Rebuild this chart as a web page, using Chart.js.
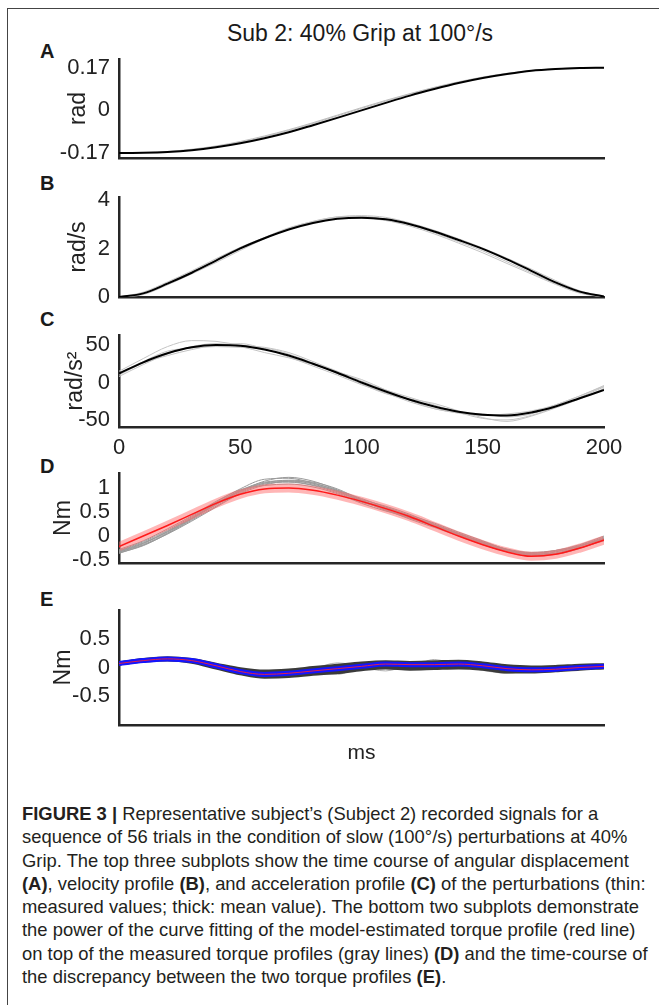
<!DOCTYPE html>
<html>
<head>
<meta charset="utf-8">
<script src="https://cdn.jsdelivr.net/npm/chart.js@4.4.0/dist/chart.umd.min.js"></script>
<style>
  body { margin: 0; width: 659px; height: 1005px; background: #fff; position: relative; overflow: hidden;
         font-family: "Liberation Sans", Arial, sans-serif; color: #1a1a1a; }
  .frame { position: absolute; left: 7px; top: 8px; width: 700px; height: 1100px;
           border-left: 1px solid #444; border-top: 1px solid #444; }
  canvas { position: absolute; left: 0; }
  .letter { position: absolute; left: 40px; font-weight: bold; font-size: 20px; line-height: 22px; }
  #title { position: absolute; top: 20px; left: 0; width: 720px; text-align: center; font-size: 23px; line-height: 26px; }
  #caption { position: absolute; left: 22px; top: 802px; font-size: 18.4px; line-height: 23.3px; color: #231f20; }
  #caption div { white-space: nowrap; }
</style>
</head>
<body>
<div class="frame"></div>
<div id="title">Sub 2: 40% Grip at 100°/s</div>
<div class="letter" style="top:40px">A</div>
<div class="letter" style="top:172px">B</div>
<div class="letter" style="top:308px">C</div>
<div class="letter" style="top:455px">D</div>
<div class="letter" style="top:588px">E</div>
<div id="caption">
  <div><b>FIGURE 3 |</b> Representative subject’s (Subject 2) recorded signals for a</div>
  <div>sequence of 56 trials in the condition of slow (100°/s) perturbations at 40%</div>
  <div>Grip. The top three subplots show the time course of angular displacement</div>
  <div><b>(A)</b>, velocity profile <b>(B)</b>, and acceleration profile <b>(C)</b> of the perturbations (thin:</div>
  <div>measured values; thick: mean value). The bottom two subplots demonstrate</div>
  <div>the power of the curve fitting of the model-estimated torque profile (red line)</div>
  <div>on top of the measured torque profiles (gray lines) <b>(D)</b> and the time-course of</div>
  <div>the discrepancy between the two torque profiles <b>(E)</b>.</div>
</div>
<script>
// time base, ms
const time = [0, 10, 20, 30, 40, 50, 60, 70, 80, 90, 100, 110, 120, 130, 140, 150, 160, 170, 180, 190, 200];
const xTickValues = [0, 50, 100, 150, 200];

// A: angular displacement (rad)
const dispMean = [-0.170, -0.169, -0.166, -0.159, -0.147, -0.131, -0.111, -0.087, -0.059, -0.030, 0.000,
                  0.030, 0.059, 0.085, 0.109, 0.129, 0.145, 0.158, 0.165, 0.169, 0.170];
const dispTrials = [
  [-0.170, -0.169, -0.165, -0.157, -0.144, -0.127, -0.105, -0.080, -0.052, -0.022, 0.008,
   0.037, 0.065, 0.090, 0.112, 0.131, 0.147, 0.158, 0.166, 0.169, 0.170],
  [-0.170, -0.168, -0.164, -0.155, -0.142, -0.124, -0.102, -0.077, -0.049, -0.019, 0.011,
   0.040, 0.067, 0.092, 0.114, 0.133, 0.148, 0.159, 0.166, 0.169, 0.170]
];
const dispTicks = [-0.17, 0, 0.17];

// B: velocity (rad/s)
const velMean = [0, 0.15, 0.55, 1.0, 1.5, 2.0, 2.42, 2.78, 3.05, 3.22, 3.27, 3.2, 3.0, 2.7, 2.35, 1.98, 1.55, 1.08, 0.6, 0.22, 0.02];
const velTrials = [
  [0, 0.2, 0.62, 1.08, 1.58, 2.05, 2.45, 2.8, 3.1, 3.3, 3.33, 3.2, 2.98, 2.65, 2.28, 1.9, 1.45, 1.0, 0.55, 0.18, 0.0],
  [0, 0.1, 0.5, 0.95, 1.42, 1.92, 2.4, 2.82, 3.12, 3.3, 3.35, 3.28, 3.05, 2.75, 2.4, 2.02, 1.6, 1.15, 0.68, 0.26, 0.03],
  [0, 0.15, 0.58, 1.02, 1.5, 1.98, 2.45, 2.85, 3.1, 3.22, 3.25, 3.15, 2.92, 2.6, 2.22, 1.82, 1.38, 0.95, 0.52, 0.16, 0.0]
];
const velTicks = [0, 2, 4];

// C: acceleration (rad/s^2)
const accMean = [12, 27, 39, 47, 50, 49, 44, 36, 25, 13, 0, -12, -23, -32, -39, -43, -44, -40, -32, -21, -10];
const accTrials = [
  [15, 32, 48, 56, 55, 50, 47, 40, 28, 15, 2, -10, -20, -30, -40, -48, -50, -44, -33, -20, -6],
  [8, 24, 38, 48, 52, 48, 40, 33, 24, 14, 4, -10, -24, -35, -40, -42, -46, -42, -30, -18, -5],
  [12, 28, 42, 46, 48, 47, 46, 38, 26, 12, -2, -15, -22, -28, -38, -47, -52, -45, -34, -22, -8],
  [10, 26, 36, 44, 50, 52, 45, 34, 22, 10, -3, -14, -26, -35, -41, -44, -42, -38, -30, -18, -4]
];
const accTicks = [-50, 0, 50];

// D: measured torque (gray) and model torque (red), Nm
const torqueModel = [-0.22, 0.0, 0.22, 0.45, 0.68, 0.87, 0.98, 1.0, 0.95, 0.85, 0.72, 0.57, 0.4, 0.2, 0.0,
                     -0.18, -0.33, -0.42, -0.38, -0.25, -0.08];
const torqueTrials = [
  [-0.32, -0.15, 0.1, 0.38, 0.68, 0.95, 1.12, 1.15, 1.08, 0.92, 0.72, 0.55, 0.38, 0.2, 0.02, -0.15, -0.3, -0.38, -0.35, -0.22, -0.05],
  [-0.35, -0.2, 0.05, 0.33, 0.62, 0.9, 1.08, 1.12, 1.05, 0.9, 0.7, 0.58, 0.42, 0.22, 0.05, -0.12, -0.28, -0.4, -0.36, -0.24, -0.1],
  [-0.3, -0.12, 0.12, 0.4, 0.7, 0.98, 1.18, 1.2, 1.1, 0.95, 0.78, 0.6, 0.43, 0.27, 0.08, -0.1, -0.28, -0.35, -0.32, -0.2, -0.02],
  [-0.33, -0.18, 0.06, 0.35, 0.65, 0.92, 1.1, 1.16, 1.12, 0.98, 0.75, 0.55, 0.35, 0.18, 0.0, -0.18, -0.33, -0.42, -0.38, -0.26, -0.08],
  [-0.28, -0.1, 0.15, 0.42, 0.72, 0.96, 1.05, 1.08, 1.02, 0.88, 0.68, 0.52, 0.4, 0.24, 0.05, -0.14, -0.3, -0.36, -0.3, -0.18, 0.0],
  [-0.34, -0.16, 0.08, 0.36, 0.66, 0.93, 1.14, 1.22, 1.14, 0.96, 0.76, 0.62, 0.45, 0.25, 0.06, -0.12, -0.27, -0.34, -0.3, -0.2, -0.04],
  [-0.31, -0.14, 0.09, 0.37, 0.67, 0.94, 1.1, 1.13, 1.06, 0.93, 0.74, 0.53, 0.37, 0.21, 0.03, -0.16, -0.31, -0.39, -0.33, -0.21, -0.06],
  [-0.36, -0.19, 0.04, 0.31, 0.6, 0.88, 1.06, 1.14, 1.1, 0.94, 0.73, 0.6, 0.41, 0.23, 0.04, -0.13, -0.29, -0.37, -0.37, -0.25, -0.07]
];
const torqueTicks = [-0.5, 0, 0.5, 1];

// E: discrepancy between measured and model torque, Nm
const errMean = [0.07, 0.12, 0.15, 0.12, 0.03, -0.07, -0.12, -0.1, -0.06, -0.02, 0.02, 0.06, 0.05, 0.05, 0.06, 0.03, -0.02, -0.04, -0.03, 0.0, 0.02];
const errDark = [
  [0.07, 0.13, 0.16, 0.13, 0.05, -0.03, -0.07, -0.05, -0.01, 0.03, 0.07, 0.09, 0.08, 0.09, 0.1, 0.07, 0.02, 0.0, 0.01, 0.03, 0.04],
  [0.07, 0.12, 0.14, 0.1, 0.0, -0.1, -0.16, -0.15, -0.11, -0.08, -0.03, 0.0, -0.02, -0.01, 0.0, -0.02, -0.07, -0.07, -0.05, -0.02, 0.0]
];
const errLight = [
  [0.07, 0.13, 0.15, 0.12, 0.04, -0.05, -0.1, -0.08, -0.02, 0.08, 0.04, 0.1, 0.02, 0.14, 0.05, 0.06, -0.05, -0.02, -0.01, 0.02, 0.03],
  [0.07, 0.12, 0.16, 0.11, 0.02, -0.08, -0.14, -0.12, -0.09, -0.12, -0.01, -0.06, 0.03, 0.0, 0.03, -0.05, -0.1, -0.05, -0.04, 0.0, 0.01]
];
const errTicks = [-0.5, 0, 0.5];

const series = (vals) => vals.map((v, i) => ({ x: time[i], y: v }));
const line = (vals, color, width, order) => ({
  data: series(vals), borderColor: color, borderWidth: width, order: order,
  pointRadius: 0, fill: false
});

const axisColor = "#262626";
const textColor = "#222";

function makePanel(p) {
  const canvas = document.createElement("canvas");
  const padTop = 26;
  canvas.width = 659;
  canvas.height = p.bottom - p.top + padTop + p.xh;
  canvas.style.top = (p.top - padTop) + "px";
  document.body.appendChild(canvas);

  new Chart(canvas.getContext("2d"), {
    type: "line",
    data: { datasets: p.datasets },
    options: {
      responsive: false,
      animation: false,
      devicePixelRatio: 1,
      layout: { padding: { top: padTop, right: 55, bottom: 0, left: 0 } },
      plugins: { legend: { display: false }, tooltip: { enabled: false } },
      elements: { line: { cubicInterpolationMode: "monotone" } },
      scales: {
        x: {
          type: "linear", min: 0, max: 200,
          grid: { display: false, drawTicks: false },
          border: { color: axisColor, width: 2.5 },
          ticks: { display: !!p.xTicks, padding: 8, maxRotation: 0, color: textColor,
                   font: { size: 22 }, callback: (v) => String(v) },
          afterBuildTicks: (ax) => { ax.ticks = (p.xTicks || xTickValues).map((v) => ({ value: v })); },
          afterFit: (ax) => { ax.height = p.xh; },
          title: { display: !!p.xTitle, text: p.xTitle || "", color: textColor,
                   font: { size: 21 }, padding: { top: 0, bottom: 1 } }
        },
        y: {
          type: "linear", min: p.yMin, max: p.yMax,
          grid: { display: false, drawTicks: false },
          border: { color: axisColor, width: 2.5 },
          ticks: { padding: 9, color: textColor, font: { size: 22 }, callback: (v) => String(v) },
          afterBuildTicks: (ax) => { ax.ticks = p.yTicks.map((v) => ({ value: v })); },
          afterFit: (ax) => { ax.width = 119; },
          title: { display: true, text: p.yTitle, color: textColor, font: { size: 23 },
                   padding: { top: p.titleX - 13.8, bottom: 0 } }
        }
      }
    }
  });
}

makePanel({
  top: 59, bottom: 158, xh: 26, yMin: -0.19, yMax: 0.205, yTicks: dispTicks, yTitle: "rad", titleX: 79,
  datasets: [line(dispMean, "#000", 2, 0)].concat(dispTrials.map((t, i) => line(t, "#bdbdbd", 1, i + 1)))
});

makePanel({
  top: 197, bottom: 297, xh: 26, yMin: 0, yMax: 4.12, yTicks: velTicks, yTitle: "rad/s", titleX: 79,
  datasets: [line(velMean, "#000", 2, 0)].concat(velTrials.map((t, i) => line(t, "#c4c4c4", 1, i + 1)))
});

makePanel({
  top: 335, bottom: 427, xh: 38, yMin: -59.5, yMax: 63.5, yTicks: accTicks, yTitle: "rad/s²", titleX: 76,
  xTicks: xTickValues,
  datasets: [line(accMean, "#000", 2, 0)].concat(accTrials.map((t, i) => line(t, "#c4c4c4", 1, i + 1)))
});

makePanel({
  top: 473, bottom: 563, xh: 26, yMin: -0.56, yMax: 1.31, yTicks: torqueTicks, yTitle: "Nm", titleX: 64,
  datasets: [line(torqueModel, "#ff1a1a", 1.5, 0), line(torqueModel, "rgba(255,110,110,0.5)", 9, 1)]
    .concat(torqueTrials.map((t, i) => line(t, "#9a9a9a", 1, i + 2)))
});

makePanel({
  top: 610, bottom: 725, xh: 42, yMin: -1, yMax: 1, yTicks: errTicks, yTitle: "Nm", xTitle: "ms", titleX: 64,
  datasets: [line(errMean, "#e0204a", 1, 0), line(errMean, "#1414ff", 5, 1)]
    .concat(errDark.map((t, i) => line(t, "#3a3a3a", 4, i + 2)))
    .concat(errLight.map((t, i) => line(t, "#b0b0b0", 1, i + 4)))
});
</script>
</body>
</html>
